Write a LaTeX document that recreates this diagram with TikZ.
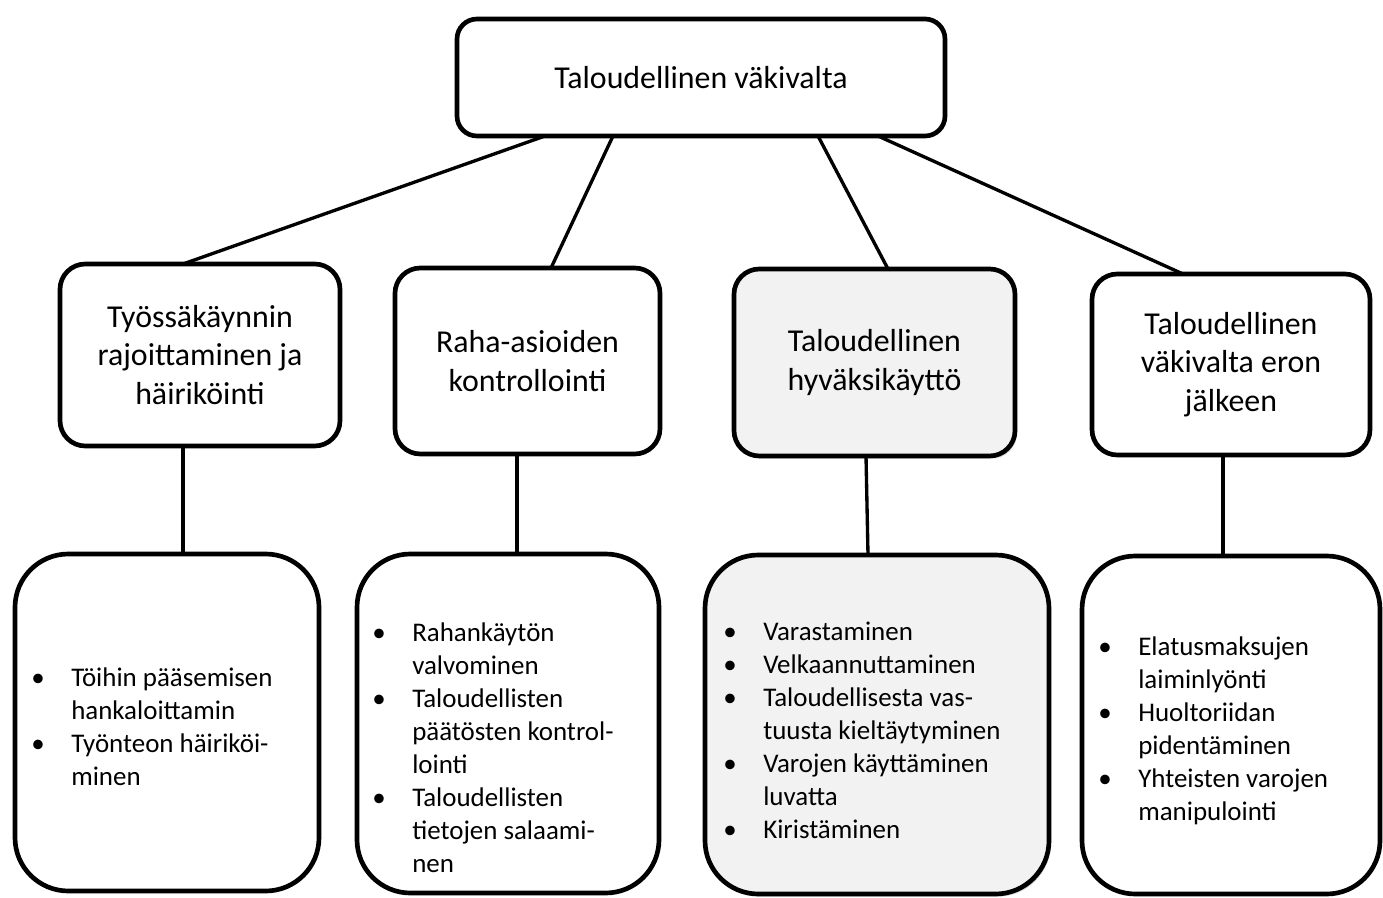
\documentclass[tikz,border=0pt]{standalone}
\usepackage{fontspec}
\setmainfont{Carlito}
\usetikzlibrary{calc,shadows}
\definecolor{boxgray}{HTML}{F2F2F2}
\tikzset{
  box/.style={draw=black, line width=3.5pt, outer sep=0pt, inner sep=0pt, fill=white,
    align=center, font=\fontsize{23.9}{28.9}\selectfont},
  topbox/.style={box, rounded corners=15pt},
  midbox/.style={box, rounded corners=19pt},
  lowbox/.style={box, rounded corners=40pt},
  grayfill/.style={fill=boxgray, drop shadow={opacity=0.3, shadow xshift=1.5pt, shadow yshift=-2pt}},
  link/.style={line width=2.5pt},
  bullets/.style={anchor=west, align=left, inner sep=0pt, font=\fontsize{20.2}{24.75}\selectfont}
}
\newcommand{\bitem}[1]{\makebox[30pt][l]{•}#1}
\newcommand{\bcont}[1]{\hspace*{30pt}#1}
\begin{document}
\begin{tikzpicture}[x=0.75pt,y=-0.75pt]
\useasboundingbox (0,0) rectangle (1383,898);
% top
\node[topbox, minimum width=366pt, minimum height=87.75pt] (top) at (701,77.5) {Taloudellinen väkivalta};
% middle row
\node[midbox, minimum width=210pt, minimum height=136.5pt] (m1) at (200,355) {Työssäkäynnin\\rajoittaminen ja\\häiriköinti};
\node[midbox, minimum width=198.75pt, minimum height=139.5pt] (m2) at (527.5,361) {Raha-asioiden\\kontrollointi};
\node[midbox, grayfill, minimum width=210.75pt, minimum height=140.25pt] (m3) at (874.5,362.5) {Taloudellinen\\hyväksikäyttö};
\node[midbox, minimum width=208.5pt, minimum height=135.75pt] (m4) at (1231,364.5) {Taloudellinen\\väkivalta eron\\jälkeen};
% bottom row
\node[lowbox, minimum width=228pt, minimum height=252.75pt] (b1) at (167,722.5) {};
\node[lowbox, minimum width=226.5pt, minimum height=254.25pt] (b2) at (508,723.5) {};
\node[lowbox, grayfill, minimum width=258pt, minimum height=254.25pt] (b3) at (877,724.5) {};
\node[lowbox, minimum width=223.5pt, minimum height=253.5pt] (b4) at (1231,725) {};
% connectors
\draw[link] ($(top.south)+(-156,0)$) -- ($(m1.north)+(-17,0)$);
\draw[link] ($(top.south)+(-88,0)$) -- ($(m2.north)+(23.5,0)$);
\draw[link] ($(top.south)+(117,0)$) -- ($(m3.north)+(13.5,0)$);
\draw[link] ($(top.south)+(177,0)$) -- ($(m4.north)+(-48,0)$);
\draw[link] ($(m1.south)+(-17,0)$) -- ($(b1.north)+(16,0)$);
\draw[link] ($(m2.south)+(-10.5,0)$) -- ($(b2.north)+(9,0)$);
\draw[link] ($(m3.south)+(-8.5,0)$) -- ($(b3.north)+(-9,0)$);
\draw[link] ($(m4.south)+(-8,0)$) -- ($(b4.north)+(-8,0)$);
% lists
\node[bullets] (l1) at ($(b1.west)+(16,4)$) {\bitem{Töihin pääsemisen}\\\bcont{hankaloittamin}\\\bitem{Työnteon häiriköi-}\\\bcont{minen}};
\node[bullets] (l2) at ($(b2.west)+(15,24)$) {\bitem{Rahankäytön}\\\bcont{valvominen}\\\bitem{Taloudellisten}\\\bcont{päätösten kontrol-}\\\bcont{lointi}\\\bitem{Taloudellisten}\\\bcont{tietojen salaami-}\\\bcont{nen}};
\node[bullets] (l3) at ($(b3.west)+(18,6)$) {\bitem{Varastaminen}\\\bitem{Velkaannuttaminen}\\\bitem{Taloudellisesta vas-}\\\bcont{tuusta kieltäytyminen}\\\bitem{Varojen käyttäminen}\\\bcont{luvatta}\\\bitem{Kiristäminen}};
\node[bullets] (l4) at ($(b4.west)+(16,6)$) {\bitem{Elatusmaksujen}\\\bcont{laiminlyönti}\\\bitem{Huoltoriidan}\\\bcont{pidentäminen}\\\bitem{Yhteisten varojen}\\\bcont{manipulointi}};
\end{tikzpicture}
\end{document}
